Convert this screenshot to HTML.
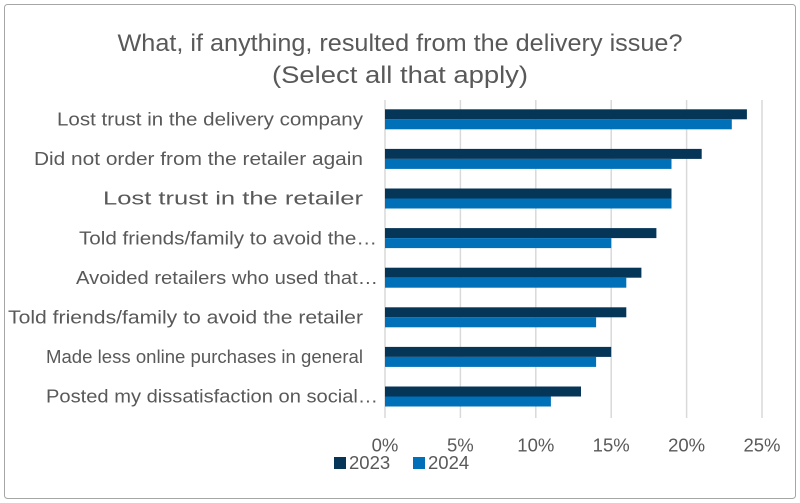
<!DOCTYPE html>
<html><head><style>
body{margin:0;background:#fff;}
svg{display:block;font-family:"Liberation Sans",sans-serif;}
</style></head><body>
<svg width="800" height="503" viewBox="0 0 800 503">
<rect x="4.5" y="4.5" width="791" height="494" rx="3" fill="#fff" stroke="#a6a6a6" stroke-width="1"/>
<text x="400" y="51" font-size="24" fill="#595959" text-anchor="middle" textLength="565" lengthAdjust="spacingAndGlyphs">What, if anything, resulted from the delivery issue?</text>
<text x="400" y="83" font-size="24" fill="#595959" text-anchor="middle" textLength="256" lengthAdjust="spacingAndGlyphs">(Select all that apply)</text>
<g stroke="#d9d9d9" stroke-width="1.5">
<line x1="385" y1="100" x2="385" y2="418"/>
<line x1="460.4" y1="100" x2="460.4" y2="418"/>
<line x1="535.8" y1="100" x2="535.8" y2="418"/>
<line x1="611.2" y1="100" x2="611.2" y2="418"/>
<line x1="686.6" y1="100" x2="686.6" y2="418"/>
<line x1="762" y1="100" x2="762" y2="418"/>
</g>
<g fill="#053557">
<rect x="385" y="109.3" width="361.9" height="10"/>
<rect x="385" y="148.9" width="316.7" height="10"/>
<rect x="385" y="188.5" width="286.5" height="10"/>
<rect x="385" y="228.1" width="271.4" height="10"/>
<rect x="385" y="267.7" width="256.4" height="10"/>
<rect x="385" y="307.3" width="241.3" height="10"/>
<rect x="385" y="346.9" width="226.2" height="10"/>
<rect x="385" y="386.5" width="196" height="10"/>
</g>
<g fill="#0070b8">
<rect x="385" y="119.3" width="346.8" height="10"/>
<rect x="385" y="158.9" width="286.5" height="10"/>
<rect x="385" y="198.5" width="286.5" height="10"/>
<rect x="385" y="238.1" width="226.2" height="10"/>
<rect x="385" y="277.7" width="241.3" height="10"/>
<rect x="385" y="317.3" width="211.1" height="10"/>
<rect x="385" y="356.9" width="211.1" height="10"/>
<rect x="385" y="396.5" width="165.9" height="10"/>
</g>
<g font-size="18.5" fill="#595959" text-anchor="end">
<text x="363" y="125.5" textLength="306" lengthAdjust="spacingAndGlyphs">Lost trust in the delivery company</text>
<text x="363" y="165.1" textLength="329" lengthAdjust="spacingAndGlyphs">Did not order from the retailer again</text>
<text x="363" y="204.7" textLength="260" lengthAdjust="spacingAndGlyphs">Lost trust in the retailer</text>
<text x="377" y="244.3" textLength="298" lengthAdjust="spacingAndGlyphs">Told friends/family to avoid the…</text>
<text x="378" y="283.9" textLength="302" lengthAdjust="spacingAndGlyphs">Avoided retailers who used that…</text>
<text x="363" y="323.5" textLength="355" lengthAdjust="spacingAndGlyphs">Told friends/family to avoid the retailer</text>
<text x="363" y="363.1" textLength="317" lengthAdjust="spacingAndGlyphs">Made less online purchases in general</text>
<text x="378" y="402.7" textLength="332" lengthAdjust="spacingAndGlyphs">Posted my  dissatisfaction on social…</text>
</g>
<g font-size="18.5" fill="#595959" text-anchor="middle">
<text x="385" y="451.5">0%</text>
<text x="460.4" y="451.5">5%</text>
<text x="535.8" y="451.5">10%</text>
<text x="611.2" y="451.5">15%</text>
<text x="686.6" y="451.5">20%</text>
<text x="762" y="451.5">25%</text>
</g>
<rect x="334" y="457" width="12" height="12" fill="#053557"/>
<text x="349" y="469" font-size="18.5" fill="#595959">2023</text>
<rect x="413" y="457" width="12" height="12" fill="#0070b8"/>
<text x="428" y="469" font-size="18.5" fill="#595959">2024</text>
</svg>
</body></html>
